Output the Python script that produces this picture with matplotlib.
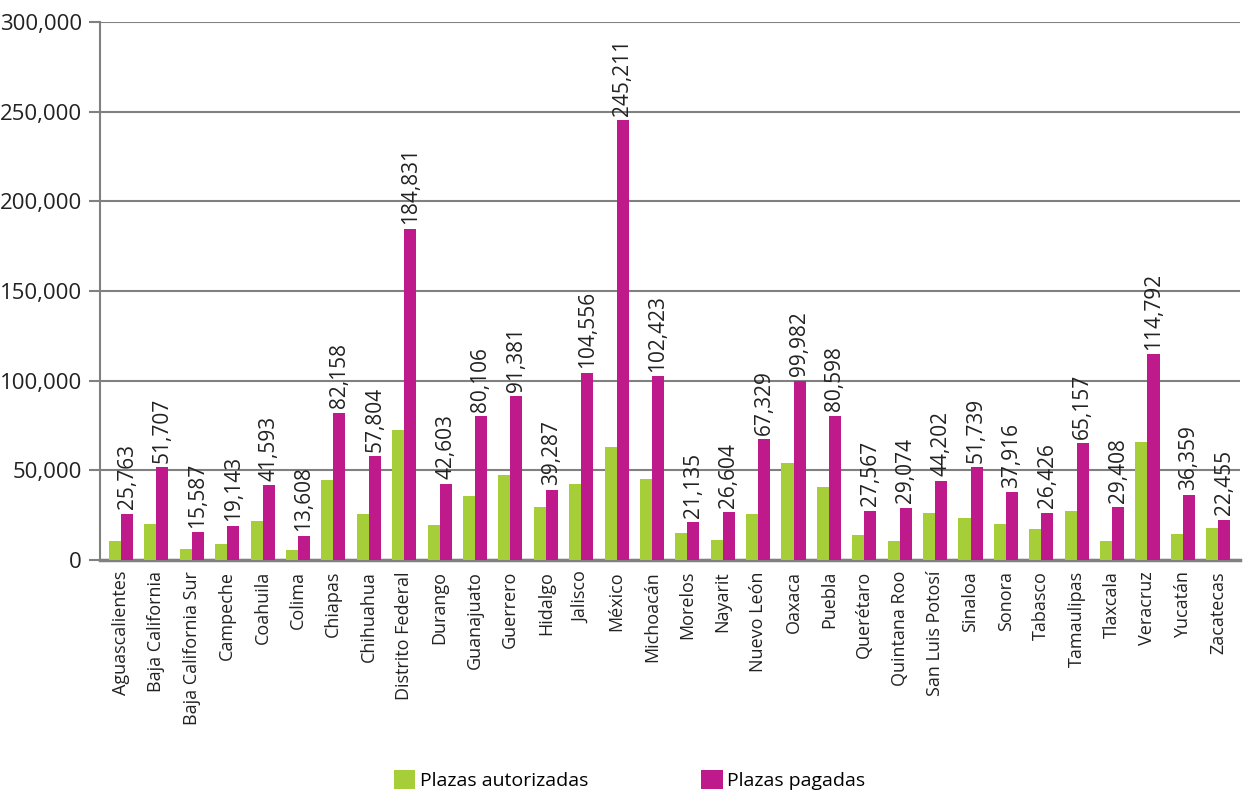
import matplotlib
matplotlib.use("Agg")
import numpy as np
import matplotlib.pyplot as plt
from matplotlib.ticker import FuncFormatter

estados = ["Aguascalientes", "Baja California", "Baja California Sur", "Campeche",
           "Coahuila", "Colima", "Chiapas", "Chihuahua", "Distrito Federal",
           "Durango", "Guanajuato", "Guerrero", "Hidalgo", "Jalisco", "México",
           "Michoacán", "Morelos", "Nayarit", "Nuevo León", "Oaxaca", "Puebla",
           "Querétaro", "Quintana Roo", "San Luis Potosí", "Sinaloa", "Sonora",
           "Tabasco", "Tamaulipas", "Tlaxcala", "Veracruz", "Yucatán", "Zacatecas"]
autorizadas = [10600, 20000, 6100, 8900, 21700, 5600, 44400, 25600, 72800,
               19400, 35600, 47200, 29400, 42200, 62800, 45000, 15000, 11100,
               25600, 53900, 40600, 13900, 10600, 26100, 23300, 20000, 17200,
               27200, 10600, 66100, 14400, 17800]
pagadas = [25763, 51707, 15587, 19143, 41593, 13608, 82158, 57804, 184831,
           42603, 80106, 91381, 39287, 104556, 245211, 102423, 21135, 26604,
           67329, 99982, 80598, 27567, 29074, 44202, 51739, 37916, 26426,
           65157, 29408, 114792, 36359, 22455]

VERDE = "#A6CE39"
MAGENTA = "#BE1A8C"
GRIS = "#808080"

plt.rcParams['font.family'] = ['Open Sans', 'DejaVu Sans']

fig = plt.figure(figsize=(12.47, 7.94), dpi=100)
ax = fig.add_axes([0.080, 0.2947, 0.914, 0.6773])

x = np.arange(len(estados))
w = 0.34
ax.bar(x - w / 2, autorizadas, w, color=VERDE, label="Plazas autorizadas", zorder=3)
ax.bar(x + w / 2, pagadas, w, color=MAGENTA, label="Plazas pagadas", zorder=3)

for xi, v in zip(x, pagadas):
    ax.text(xi + w / 2, v + 2500, f"{v:,}", rotation=90, ha="center", va="bottom",
            fontsize=15, color="#222222", zorder=4)

ax.set_ylim(0, 300000)
ax.set_xlim(-0.6, len(estados) - 0.4)
ax.set_yticks(np.arange(0, 300001, 50000))
ax.yaxis.set_major_formatter(FuncFormatter(lambda v, p: f"{int(v):,}"))
ax.yaxis.grid(True, color=GRIS, linewidth=1.5, zorder=0)
ax.set_axisbelow(True)

ax.set_xticks(x)
ax.set_xticklabels(estados, rotation=90, fontsize=13, color="#222222")
ax.tick_params(axis="x", length=0, pad=8)
ax.tick_params(axis="y", length=8, width=1.5, color=GRIS, labelsize=16,
               labelcolor="#222222", pad=5)

for s in ["top", "right"]:
    ax.spines[s].set_visible(False)
ax.spines["left"].set_color(GRIS)
ax.spines["left"].set_linewidth(1.5)
ax.spines["bottom"].set_color(GRIS)
ax.spines["bottom"].set_linewidth(2.5)

fig.legend(loc="lower center", bbox_to_anchor=(0.505, -0.017), ncol=2, frameon=False,
           fontsize=14, handlelength=1.1, handleheight=1.1, handletextpad=0.25,
           columnspacing=5.8)

fig.savefig("out.png", dpi=100)
